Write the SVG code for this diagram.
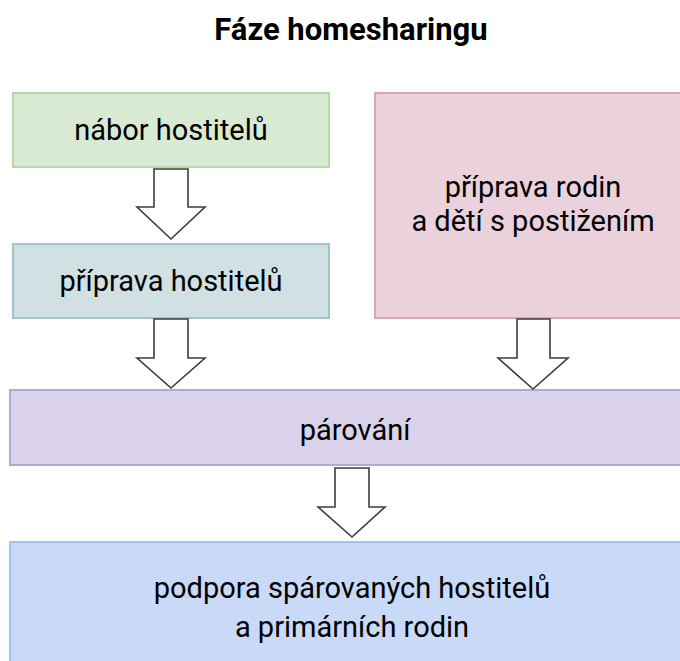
<svg xmlns="http://www.w3.org/2000/svg" width="680" height="661" viewBox="0 0 680 661">
<style>
text{font-family:Roboto,"Liberation Sans",sans-serif;fill:#000;text-anchor:middle}
.t{font-size:29px}
.title{font-size:31px;font-weight:bold}
.box{stroke-width:2}
.arr{fill:#fff;stroke:#3c3c3c;stroke-width:1.6;stroke-linejoin:miter}
</style>
<rect width="680" height="661" fill="#fff"/>
<text class="title" x="351" y="40">Fáze homesharingu</text>
<g id="nabor">
<rect class="box" x="13" y="93" width="316" height="74" fill="#d9ead3" stroke="#b6d7a8"/>
<text class="t" x="171" y="140">nábor hostitelů</text>
</g>
<g id="priprava-hostitelu">
<rect class="box" x="13" y="244" width="316" height="74" fill="#d0e0e3" stroke="#a2c4c9"/>
<text class="t" x="171" y="291">příprava hostitelů</text>
</g>
<g id="priprava-rodin">
<rect class="box" x="375" y="93" width="320" height="225" fill="#ead1dc" stroke="#d5a6bd"/>
<text class="t" x="533" y="197">příprava rodin</text>
<text class="t" x="533" y="231">a dětí s postižením</text>
</g>
<g id="parovani">
<rect class="box" x="10" y="390" width="690" height="75" fill="#d9d2e9" stroke="#b4a7d6"/>
<text class="t" x="355" y="440">párování</text>
</g>
<g id="podpora">
<rect class="box" x="10" y="542" width="690" height="130" fill="#c9daf8" stroke="#a4c2f4"/>
<text class="t" x="352" y="598">podpora spárovaných hostitelů</text>
<text class="t" x="352" y="637">a primárních rodin</text>
</g>
<g id="connectors">
<path class="arr" d="M154,169 H188 V207 H205 L171,239 L137,207 H154 Z"/>
<path class="arr" d="M154,319 H188 V358 H205 L171,388 L137,358 H154 Z"/>
<path class="arr" d="M517,319 H550 V358 H568 L533,389 L498,358 H517 Z"/>
<path class="arr" d="M335,468 H369 V507 H385 L352,537 L318,507 H335 Z"/>
</g>
</svg>
